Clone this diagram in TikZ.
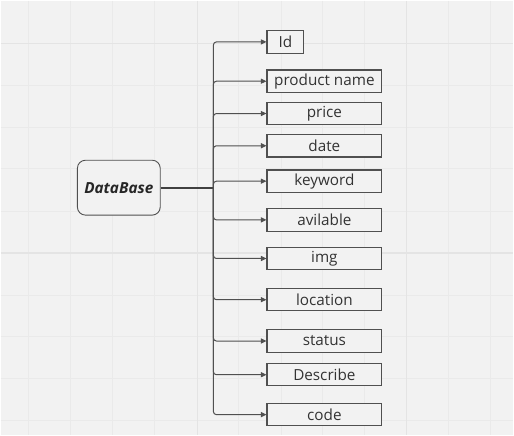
\documentclass[tikz,border=0pt]{standalone}
\usepackage{fontspec}
\setmainfont{Open Sans}
\usepackage{tikz}
\usetikzlibrary{arrows.meta}
\definecolor{canvas}{HTML}{F2F2F2}
\definecolor{gridminor}{HTML}{EAEAEA}
\definecolor{gridmajor}{HTML}{E4E4E4}
\definecolor{edge}{HTML}{505050}
\definecolor{ink}{HTML}{333333}

\begin{document}
\begin{tikzpicture}[x=1pt,y=-1pt,font=\fontsize{15.3}{18}\selectfont,>={Triangle[length=5.5pt,width=5pt]},
  field/.style={rectangle,fill=canvas,draw=edge,line width=1.1pt,text=ink,minimum width=115pt,minimum height=22.5pt,inner sep=0pt,anchor=west},
  root/.style={rectangle,rounded corners=8pt,fill=canvas,draw=edge,line width=0.9pt,text=black!85,minimum width=83pt,minimum height=55pt,inner sep=0pt,font=\fontsize{15.3}{18}\selectfont\bfseries\itshape},
  link/.style={->,draw=edge,line width=1pt,rounded corners=3pt}]
% canvas and grid
\fill[canvas] (0,0) rectangle (514,435);
\foreach \gx in {28,70,112,154,238,281,323,365,449,491} \draw[gridminor,line width=0.8pt] (\gx,0) -- (\gx,435);
\foreach \gy in {85,127,168,211,295,337,379,421} \draw[gridminor,line width=0.8pt] (0,\gy) -- (514,\gy);
\foreach \gx in {197,407} \draw[gridmajor,line width=1.2pt] (\gx,0) -- (\gx,435);
\foreach \gy in {43,253} \draw[gridmajor,line width=1.2pt] (0,\gy) -- (514,\gy);
\useasboundingbox (0,0) rectangle (514,435);

\node[root] (db) at (118.5,187.5) {DataBase};
\coordinate (fork) at (213.3,187.5);

\node[field,minimum width=37pt] (id) at (266.5,41.4) {Id};
\node[field] (pname) at (266.5,80.8) {product name};
\node[field] (price) at (266.5,113.2) {price};
\node[field] (date) at (266.5,145.5) {date};
\node[field] (keyword) at (266.5,181) {keyword};
\node[field] (avail) at (266.5,219.8) {avilable};
\node[field] (img) at (266.5,258.5) {img};
\node[field] (location) at (266.5,299.8) {location};
\node[field] (status) at (266.5,341.2) {status};
\node[field] (describe) at (266.5,375) {Describe};
\node[field] (code) at (266.5,415) {code};

\draw[draw=edge!80!black,line width=2pt] (db.east) -- (fork);
\foreach \target in {id,pname,price,date,keyword,avail,img,location,status,describe,code}
  \draw[link] (fork) |- (\target.west);
\end{tikzpicture}
\end{document}
